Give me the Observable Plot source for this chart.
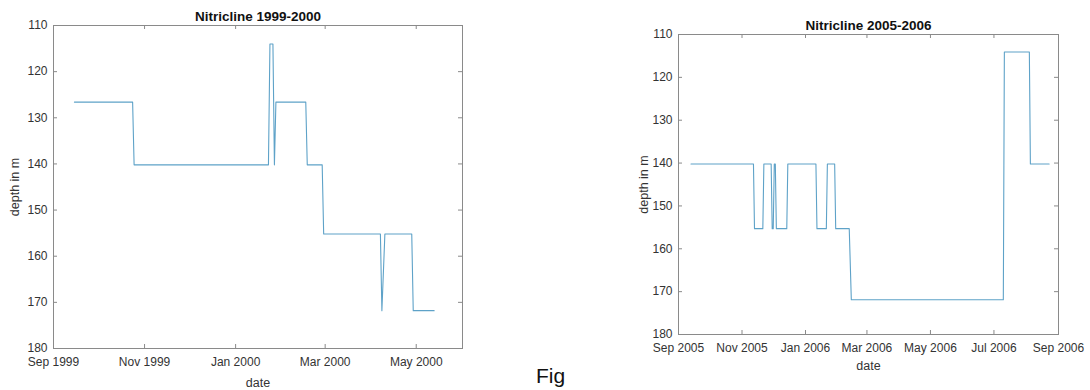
<!DOCTYPE html>
<html><head><meta charset="utf-8">
<script src="https://cdn.jsdelivr.net/npm/d3@7"></script>
<script src="https://cdn.jsdelivr.net/npm/@observablehq/plot@0.6"></script>
<style>
body{margin:0;background:#fff;width:1090px;height:390px;overflow:hidden;position:relative;font-family:"Liberation Sans",Arial,sans-serif}
#left{position:absolute;left:0;top:0}
#right{position:absolute;left:540px;top:0}
#fig{position:absolute;left:536px;top:364px;font-size:21px;line-height:24px;color:#111;white-space:nowrap}
</style></head><body>
<div id="left"></div><div id="right"></div><div id="fig">Fig</div>
<script>
// ---- data: Nitricline 1999-2000 ----
const dates1 = ["1999-09-15","1999-10-24","1999-10-25","2000-01-23","2000-01-24","2000-01-26","2000-01-27","2000-01-28","2000-02-17","2000-02-18","2000-02-28","2000-02-29","2000-04-07","2000-04-08","2000-04-10","2000-04-28","2000-04-29","2000-05-13"];
const depth1 = [126.6,126.6,140.2,140.2,114,114,140.2,126.6,126.6,140.2,140.2,155.2,155.2,171.8,155.2,155.2,171.8,171.8];
const xTicks1 = ["1999-09-01","1999-11-01","2000-01-01","2000-03-01","2000-05-01"];
const xDomain1 = ["1999-09-01","2000-06-01"];

// ---- data: Nitricline 2005-2006 ----
const dates2 = ["2005-09-13","2005-11-12","2005-11-13","2005-11-21","2005-11-22","2005-11-29","2005-11-30","2005-12-01","2005-12-02","2005-12-03","2005-12-04","2005-12-14","2005-12-15","2006-01-11","2006-01-12","2006-01-21","2006-01-22","2006-01-29","2006-01-30","2006-02-12","2006-02-14","2006-07-10","2006-07-11","2006-08-04","2006-08-05","2006-08-23"];
const depth2 = [140.2,140.2,155.3,155.3,140.2,140.2,155.3,155.3,140.2,140.2,155.3,155.3,140.2,140.2,155.3,155.3,140.2,140.2,155.3,155.3,171.9,171.9,114.1,114.1,140.2,140.2];
const xTicks2 = ["2005-09-01","2005-11-01","2006-01-01","2006-03-01","2006-05-01","2006-07-01","2006-09-01"];
const xDomain2 = ["2005-09-01","2006-09-01"];

const yTicks = [110,120,130,140,150,160,170,180];
const yDomain = [110,180];
const titles = ["Nitricline 1999-2000","Nitricline 2005-2006"];

const lineColor = "#5ea2c8";
const axisColor = "#8a8a8a";
const textColor = "#333";
const fmt = d3.utcFormat("%b %Y");
const toDate = s => new Date(s);

function panel({dates, depth, xTicks, xDomain, title, width, height, margins, pad, titleDy, labelDx, dateDy}) {
  const [mt, mr, mb, ml] = margins;
  const pw = width - ml - mr, ph = height - mt - mb;
  const data = dates.map((d, i) => ({date: toDate(d), depth: depth[i]}));
  const xt = xTicks.map(toDate);
  const tl = 4;
  return Plot.plot({
    width, height,
    marginTop: mt, marginRight: mr, marginBottom: mb, marginLeft: ml,
    style: {fontFamily: "Liberation Sans, Arial, sans-serif", background: "white", overflow: "visible"},
    x: {type: "utc", domain: xDomain.map(toDate)},
    y: {domain: yDomain, reverse: true},
    marks: [
      Plot.frame({stroke: axisColor, strokeWidth: 1}),
      Plot.tickX(xt, {x: d => d, insetTop: ph - tl, stroke: axisColor}),
      Plot.tickX(xt, {x: d => d, insetBottom: ph - tl, stroke: axisColor}),
      Plot.tickY(yTicks, {y: d => d, insetRight: pw - tl, stroke: axisColor}),
      Plot.tickY(yTicks, {y: d => d, insetLeft: pw - tl, stroke: axisColor}),
      Plot.axisX({ticks: xt, tickSize: 0, tickPadding: pad, tickFormat: fmt, fontSize: 12, fill: textColor, label: null}),
      Plot.axisY({ticks: yTicks, tickSize: 0, tickPadding: 6, fontSize: 12, fill: textColor, label: null}),
      Plot.line(data, {x: "date", y: "depth", stroke: lineColor, strokeWidth: 1.1}),
      Plot.text([title], {text: d => d, frameAnchor: "top", lineAnchor: "middle", textAnchor: "middle", dy: titleDy, fontWeight: "bold", fontSize: 13.5, fill: "#111"}),
      Plot.text(["depth in m"], {text: d => d, frameAnchor: "left", lineAnchor: "middle", textAnchor: "middle", dx: labelDx, rotate: -90, fontSize: 12.5, fill: textColor}),
      Plot.text(["date"], {text: d => d, frameAnchor: "bottom", lineAnchor: "middle", textAnchor: "middle", dy: dateDy, fontSize: 12.5, fill: textColor})
    ]
  });
}

document.getElementById("left").append(panel({
  dates: dates1, depth: depth1, xTicks: xTicks1, xDomain: xDomain1, title: titles[0],
  width: 540, height: 390, margins: [25, 78, 42, 53], pad: 9, titleDy: -9, labelDx: -39, dateDy: 34
}));
document.getElementById("right").append(panel({
  dates: dates2, depth: depth2, xTicks: xTicks2, xDomain: xDomain2, title: titles[1],
  width: 550, height: 390, margins: [34, 32, 56, 138], pad: 8.5, titleDy: -9, labelDx: -35, dateDy: 31
}));
</script>
</body></html>
